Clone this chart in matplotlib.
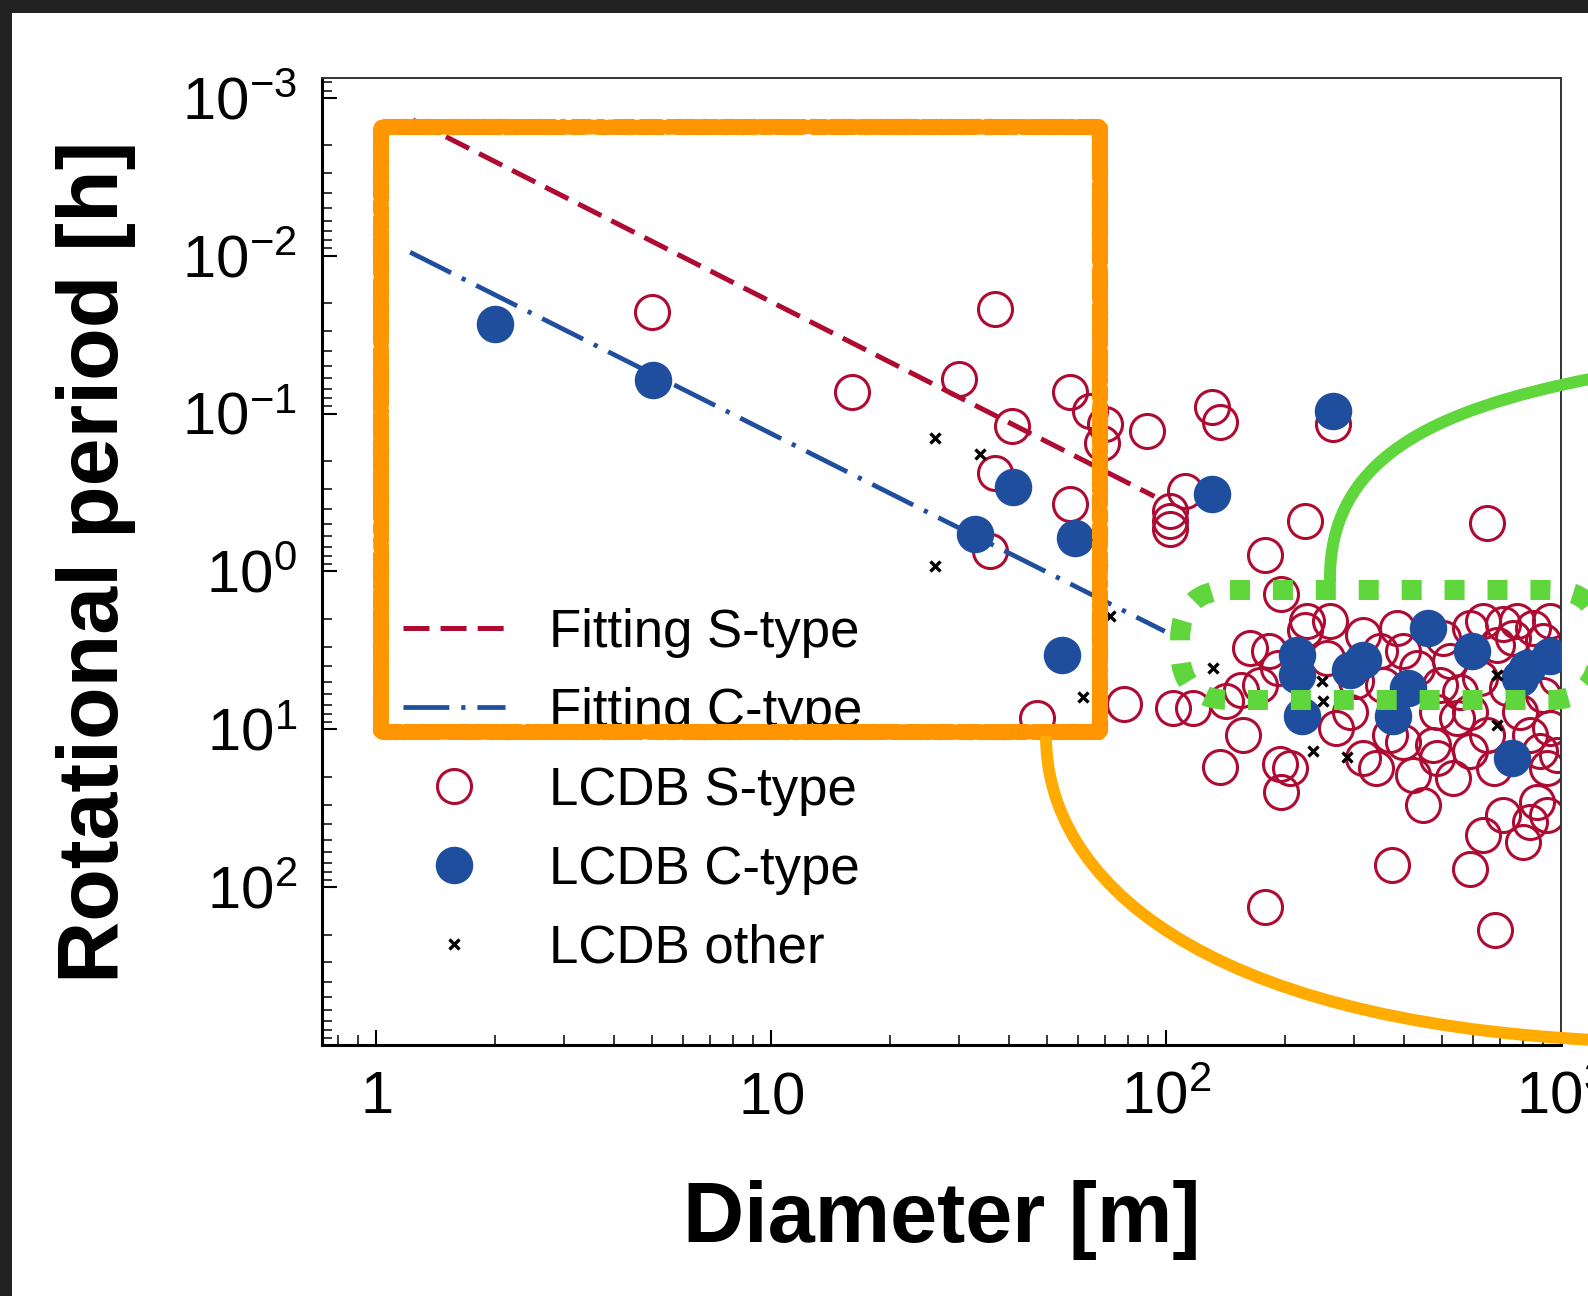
import numpy as np
import matplotlib
matplotlib.use('Agg')
import matplotlib.pyplot as plt
from matplotlib import patches, transforms
from matplotlib.path import Path
from matplotlib.lines import Line2D
from matplotlib.ticker import FixedLocator, FixedFormatter, LogLocator, NullFormatter

plt.rcParams['font.family'] = ['Liberation Sans', 'DejaVu Sans']
plt.rcParams['mathtext.fontset'] = 'custom'
plt.rcParams['mathtext.rm'] = 'Liberation Sans'
plt.rcParams['mathtext.it'] = 'Liberation Sans'
plt.rcParams['mathtext.default'] = 'regular'
plt.rcParams['lines.scale_dashes'] = False

# LCDB S-type (diameter [m], period [h])
s_diam = [4.99, 36.9, 16.0, 30.0, 40.7, 57.1, 64.2, 70.1, 68.8, 89.4, 36.9, 57.1, 35.8,
          47.1, 78.3, 111.7, 102.4, 102.4, 102.4, 130.5, 137, 265, 225, 648, 178, 196, 225,
          163, 182, 255, 316, 348, 384, 399, 431, 504, 524, 589, 636, 714, 772, 851, 938,
          687, 757, 902, 624, 729, 494, 555, 902, 975, 104, 117, 155, 173, 157, 137, 206,
          196, 270, 292, 341, 369, 423, 448, 475, 484, 534, 545, 648, 885, 975, 636, 714,
          803, 835, 920, 589, 373, 178, 681, 260, 303, 355, 484, 589, 787, 835, 589, 920,
          399, 316, 676, 868, 938, 142, 192, 227, 194]
s_period = [0.0226, 0.0217, 0.0736, 0.0605, 0.120, 0.0736, 0.0962, 0.117, 0.153, 0.129, 0.237, 0.376, 0.745,
            8.51, 6.87, 0.310, 0.415, 0.480, 0.540, 0.0916, 0.114, 0.117, 0.480, 0.492, 0.782, 1.40, 2.34,
            3.06, 3.21, 3.54, 2.52, 3.21, 2.28, 3.21, 4.10, 2.64, 3.72, 2.28, 2.07, 2.17, 2.07, 2.28, 2.07,
            2.91, 2.64, 2.77, 4.74, 5.50, 5.22, 5.77, 6.05, 4.74, 7.36, 7.36, 5.62, 5.22, 10.9, 17.3, 17.7,
            24.9, 9.86, 7.73, 17.7, 10.9, 19.5, 30.2, 12.6, 15.3, 20.5, 8.51, 10.9, 13.8, 14.5, 46.8, 35.0,
            51.6, 38.5, 35.0, 76.4, 72.6, 134, 188, 2.07, 4.98, 5.22, 7.73, 7.73, 7.73, 10.9, 13.8, 17.7,
            12.0, 15.3, 17.7, 28.8, 9.86, 6.67, 4.10, 2.07, 16.5]

# LCDB C-type
c_diam = [2.00, 5.02, 40.9, 32.8, 58.9, 54.4, 130.5, 265, 214, 214, 221, 292, 316, 410,
          376, 461, 594, 819, 938, 750, 787]
c_period = [0.0270, 0.0614, 0.292, 0.583, 0.612, 3.37, 0.325, 0.0962, 3.37, 4.52, 8.30, 4.20, 3.62, 5.50,
            8.30, 2.28, 3.21, 4.10, 3.45, 15.3, 4.74]

# LCDB other
o_diam = [26.0, 33.9, 26.0, 61.6, 72.2, 131.8, 236, 287, 250, 248, 687, 687]
o_period = [0.1435, 0.1795, 0.929, 6.29, 1.92, 4.10, 13.8, 14.9, 6.67, 4.98, 4.52, 9.38]

# power-law fits P = a * D^b and their diameter ranges
fit_s = [1.052e-3, 1.27]
fit_s_range = [1.24, 93.5]
fit_c = [7.41e-3, 1.257]
fit_c_range = [1.22, 99.3]

x_ticks = [1, 10, 100, 1000]
x_ticklabels = ['$1$', '$10$', '$10^{2}$', '$10^{3}$']
y_ticks = [1e-3, 1e-2, 1e-1, 1, 10, 100]
y_ticklabels = ['$10^{-3}$', '$10^{-2}$', '$10^{-1}$', '$10^{0}$', '$10^{1}$', '$10^{2}$']

red = '#AE0A32'
blue = '#1F4E9E'

W, H = 1588, 1296
fig = plt.figure(figsize=(W / 100, H / 100), dpi=100)
fig.patch.set_facecolor('white')
ax = fig.add_axes([322 / W, 1 - 1045 / H, (1561 - 322) / W, (1045 - 77.7) / H])

ax.plot(s_diam, s_period, 'o', ms=24.5, mfc='none', mec=red, mew=2.2, zorder=2)

d = np.logspace(np.log10(fit_s_range[0]), np.log10(fit_s_range[1]), 50)
ax.plot(d, fit_s[0] * d ** fit_s[1], color=red, lw=3.6, dashes=(18.7, 8), zorder=3)
d = np.logspace(np.log10(fit_c_range[0]), np.log10(fit_c_range[1]), 50)
ax.plot(d, fit_c[0] * d ** fit_c[1], color=blue, lw=3.4, dashes=(33, 8.6, 3, 8.6), zorder=3)

ax.plot(c_diam, c_period, 'o', ms=27, mfc=blue, mec=blue, mew=0, zorder=4)
ax.plot(o_diam, o_period, 'x', ms=6.5, color='black', mew=2.4, zorder=5)

ax.set_xscale('log')
ax.set_yscale('log')
ax.set_xlim(0.73, 1000)
ax.set_ylim(1000, 10 ** -3.127)

ax.xaxis.set_major_locator(FixedLocator(x_ticks))
ax.xaxis.set_major_formatter(FixedFormatter(x_ticklabels))
ax.yaxis.set_major_locator(FixedLocator(y_ticks))
ax.yaxis.set_major_formatter(FixedFormatter(y_ticklabels))
ax.xaxis.set_minor_locator(LogLocator(base=10, subs=np.arange(2, 10), numticks=20))
ax.yaxis.set_minor_locator(LogLocator(base=10, subs=np.arange(2, 10), numticks=20))
ax.xaxis.set_minor_formatter(NullFormatter())
ax.yaxis.set_minor_formatter(NullFormatter())
ax.tick_params(which='both', direction='in', top=False, right=False, colors='black')
ax.tick_params(which='major', length=11, width=1.5, labelsize=43)
ax.tick_params(axis='x', which='major', pad=18)
ax.tick_params(axis='y', which='major', pad=18)
ax.tick_params(which='minor', length=7, width=1.1)

for side in ['left', 'bottom']:
    ax.spines[side].set_linewidth(2.2)
for side in ['top', 'right']:
    ax.spines[side].set_linewidth(1.4)
    ax.spines[side].set_color('#333333')

ax.set_xlabel('Diameter [m]', fontsize=61, fontweight='bold', va='center')
ax.xaxis.set_label_coords(0.5, -0.181)
ax.set_ylabel('Rotational period [h]', fontsize=62, fontweight='bold', va='center')
ax.yaxis.set_label_coords(-0.1824, 0.5)

handles = [
    Line2D([], [], color=red, lw=3.6, dashes=(18.7, 8)),
    Line2D([], [], color=blue, lw=3.4, dashes=(33, 8.6, 3, 8.6)),
    Line2D([], [], ls='none', marker='o', ms=24.5, mfc='none', mec=red, mew=2.2),
    Line2D([], [], ls='none', marker='o', ms=27, mfc=blue, mec=blue, mew=0),
    Line2D([], [], ls='none', marker='x', ms=6.5, color='black', mew=2.4),
]
labels = ['Fitting S-type', 'Fitting C-type', 'LCDB S-type', 'LCDB C-type', 'LCDB other']
ax.legend(handles, labels, loc='upper left', bbox_to_anchor=(0.065, 0.452), frameon=False,
          fontsize=38, handlelength=1.95, handletextpad=0.82, labelspacing=0.55,
          borderpad=0, borderaxespad=0)

# overlay drawn in pixel coordinates of the picture (y from the top)
px = transforms.Affine2D().scale(1 / W, -1 / H).translate(0, 1) + fig.transFigure

# dark screenshot border on top and left
fig.add_artist(patches.Rectangle((0, 0), W, 13, transform=px, color='#212121', lw=0, zorder=20))
fig.add_artist(patches.Rectangle((0, 0), 12, H, transform=px, color='#212121', lw=0, zorder=20))

orange_box = patches.Rectangle((381, 127), 1100 - 381, 732 - 127, transform=px, fill=False,
                               ec='#FF9500', lw=10, zorder=10, joinstyle='round')
orange_box.set_sketch_params(scale=1.3, length=2.5, randomness=1.5)
fig.add_artist(orange_box)

orange_curve = Path([(1046, 736), (1046, 880), (1200, 1020), (1595, 1040)],
                    [Path.MOVETO, Path.CURVE4, Path.CURVE4, Path.CURVE4])
fig.add_artist(patches.PathPatch(orange_curve, transform=px, fill=False, ec='#FFAB00',
                                 lw=8.6, capstyle='butt', zorder=10))

green_box = patches.FancyBboxPatch((1180, 590), 1600 - 1180, 110,
                                   boxstyle='round,pad=0,rounding_size=50', transform=px,
                                   fill=False, ec='#5FD63B', lw=14.4,
                                   linestyle=(0, (14.4, 16.5)), capstyle='butt', zorder=11)
fig.add_artist(green_box)

green_curve = Path([(1330, 582), (1328, 460), (1430, 410), (1595, 378)],
                   [Path.MOVETO, Path.CURVE4, Path.CURVE4, Path.CURVE4])
fig.add_artist(patches.PathPatch(green_curve, transform=px, fill=False, ec='#5FD63B',
                                 lw=8.6, capstyle='butt', zorder=11))

fig.savefig('out.png', dpi=100)
